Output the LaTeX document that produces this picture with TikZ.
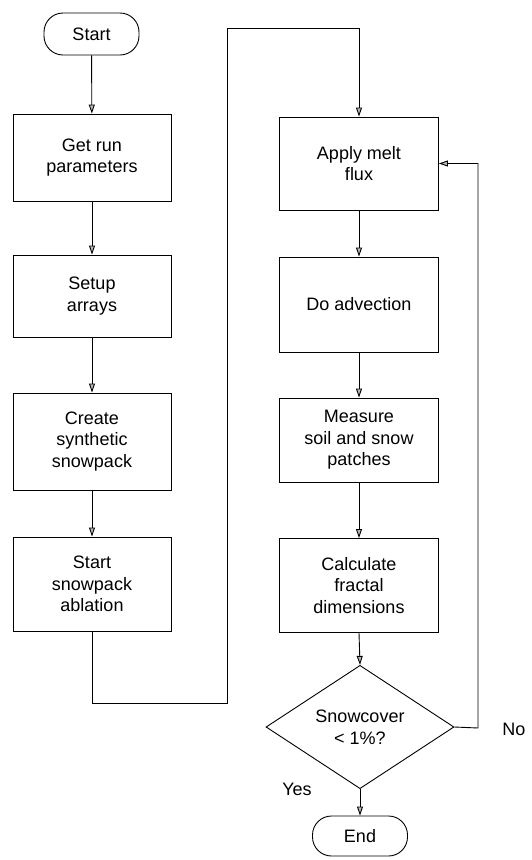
\documentclass[tikz,border=0pt]{standalone}
\usepackage{fontspec}
\setmainfont{Liberation Sans}
\usetikzlibrary{shapes.geometric,arrows.meta}
\begin{document}
\begin{tikzpicture}[x=1pt,y=-1pt,
  every node/.style={font=\fontsize{18}{21.6}\selectfont, align=center, inner sep=0pt},
  procbox/.style={draw, line width=0.9pt, minimum width=158pt},
  termbox/.style={draw, line width=0.9pt, rounded corners=19pt, minimum width=95pt, minimum height=40pt},
  decbox/.style={draw, line width=0.9pt, diamond, minimum width=188pt, minimum height=107pt},
  conn/.style={line width=0.9pt},
  arr/.style={conn, -{Triangle[length=9pt, width=6pt, fill=gray!55]}}]
\useasboundingbox (0,0) rectangle (532,860);
% left column
\node[termbox, minimum height=42pt] (start) at (91.5,34) {Start};
\node[procbox, minimum height=87pt] (get) at (92,157.5) {Get run\\parameters};
\node[procbox, minimum height=82pt] (setup) at (92,296) {Setup\\arrays};
\node[procbox, minimum height=97pt] (create) at (92,441.5) {Create\\synthetic\\snowpack};
\node[procbox, minimum height=94pt] (abl) at (92,584) {Start\\snowpack\\ablation};
% right column
\node[procbox, minimum width=159pt, minimum height=93pt] (apply) at (359,163.5) {Apply melt\\flux};
\node[procbox, minimum width=159pt, minimum height=95pt] (adv) at (359,304.5) {Do advection};
\node[procbox, minimum width=159pt, minimum height=84pt] (meas) at (359,440) {Measure\\soil and snow\\patches};
\node[procbox, minimum width=159pt, minimum height=94pt] (calc) at (359,585.5) {Calculate\\fractal\\dimensions};
\node[decbox] (dec) at (360,727) {Snowcover\\< 1\%?};
\node[termbox] (end) at (360,836) {End};
% labels
\node (no) at (514,729) {No};
\node (yes) at (297,789) {Yes};
% junctions
\coordinate (j1) at (227,703);
\coordinate (j2) at (227,28);
\coordinate (k1) at (478,728);
% connectors
\draw[arr] (start) -- (get);
\draw[arr] (get) -- (setup);
\draw[arr] (setup) -- (create);
\draw[arr] (create) -- (abl);
\draw[arr] (abl.south) |- (j1) -- (j2) -| (apply.north);
\draw[arr] (apply) -- (adv);
\draw[arr] (adv) -- (meas);
\draw[arr] (meas) -- (calc);
\draw[arr] (calc.south) -- (dec.north);
\draw[arr] (dec.south) -- (end.north);
\draw[arr] (dec.east) -- (k1) |- (apply.east);
\end{tikzpicture}
\end{document}
